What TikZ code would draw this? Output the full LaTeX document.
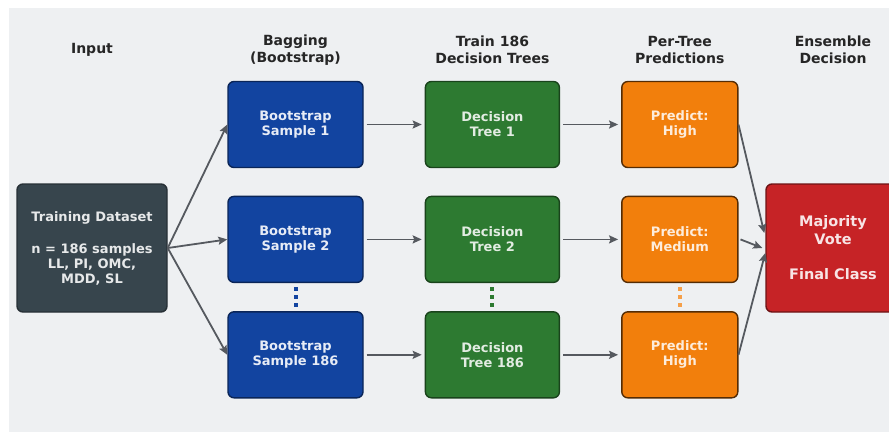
\documentclass[tikz,border=0pt]{standalone}
\usepackage{fontspec}
\setmainfont{DejaVu Sans}
\usetikzlibrary{arrows.meta, positioning}
\definecolor{panel}{HTML}{EEF0F2}
\definecolor{ink}{HTML}{55595F}
\definecolor{slate}{HTML}{37454D}
\definecolor{navy}{HTML}{1244A0}
\definecolor{leaf}{HTML}{2D7A31}
\definecolor{amber}{HTML}{F27F0C}
\definecolor{crimson}{HTML}{C62326}

\begin{document}
\begin{tikzpicture}[
  x=1pt, y=-1pt,
  font=\bfseries\fontsize{13}{15}\selectfont,
  node distance=27.5pt and 61pt,
  box/.style={
    rounded corners=6pt, draw, line width=1.4pt,
    align=center, inner sep=4pt, minimum height=86pt
  },
  inbox/.style ={box, fill=slate,   draw=slate!70!black,   text=white!88!slate,
                 minimum width=150pt, minimum height=128pt},
  sample/.style={box, fill=navy,    draw=navy!55!black,    text=white!90!navy,  minimum width=135pt},
  tree/.style  ={box, fill=leaf,    draw=leaf!55!black,    text=white!86!leaf,  minimum width=134pt},
  pred/.style  ={box, fill=amber,   draw=amber!35!black,   text=white!85!amber, minimum width=116pt},
  vote/.style  ={box, fill=crimson, draw=crimson!55!black, text=white!88!crimson,
                 minimum width=134pt, minimum height=128pt,
                 font=\bfseries\fontsize{14.5}{18}\selectfont},
  head/.style  ={align=center, text=black!85, font=\bfseries\fontsize{14}{17}\selectfont},
  flow/.style  ={-{Stealth[length=9pt, width=8pt, inset=1.5pt]}, draw=ink, line width=1.8pt},
  dots/.style  ={line width=4pt, dash pattern=on 4pt off 4pt, shorten <=4pt, shorten >=4pt}
]

\useasboundingbox (0,0) rectangle (889,432);
\fill[white] (0,0) rectangle (889,432);
\fill[panel] (9,8) rectangle (889,432);

\node[inbox] (in) at (92,248)
  {Training Dataset\\[17pt]n = 186 samples\\LL, PI, OMC,\\MDD, SL};

\node[sample] (s1) at (295.5,124.5)   {Bootstrap\\Sample 1};
\node[sample, below=of s1] (s2)       {Bootstrap\\Sample 2};
\node[sample, below=28pt of s2] (s3)  {Bootstrap\\Sample 186};

\node[tree, right=of s1] (t1) {Decision\\Tree 1};
\node[tree, right=of s2] (t2) {Decision\\Tree 2};
\node[tree, right=of s3] (t3) {Decision\\Tree 186};

\node[pred, right=of t1] (p1) {Predict:\\High};
\node[pred, right=of t2] (p2) {Predict:\\Medium};
\node[pred, right=of t3] (p3) {Predict:\\High};

\node[vote] (vote) at (833,248) {Majority\\Vote\\[17pt]Final Class};

% column headings
\coordinate (hrow) at (0,50);
\node[head] at (in |- hrow)   {Input};
\node[head] at (s1 |- hrow)   {Bagging\\(Bootstrap)};
\node[head] at (t1 |- hrow)   {Train 186\\Decision Trees};
\node[head] at (p1 |- hrow)   {Per-Tree\\Predictions};
\node[head] at (vote |- hrow) {Ensemble\\Decision};

\foreach \i in {1,2,3} {
  \draw[flow] (in.east) -- (s\i.west);
  \draw[flow, shorten <=3pt, shorten >=3pt] (s\i) -- (t\i);
  \draw[flow, shorten <=3pt, shorten >=3pt] (t\i) -- (p\i);
}

\draw[flow] (p1.east) -- ([yshift=15pt, xshift=-1pt]vote.west);
\draw[flow] ([xshift=2pt]p2.east) -- ([xshift=-3pt]vote.west);
\draw[flow] (p3.east) -- ([yshift=-5pt]vote.west);

% the rows left out between 2 and 186
\draw[dots, navy]            (s2.south) -- (s3.north);
\draw[dots, leaf]            (t2.south) -- (t3.north);
\draw[dots, amber!75!white]  (p2.south) -- (p3.north);

\end{tikzpicture}
\end{document}
